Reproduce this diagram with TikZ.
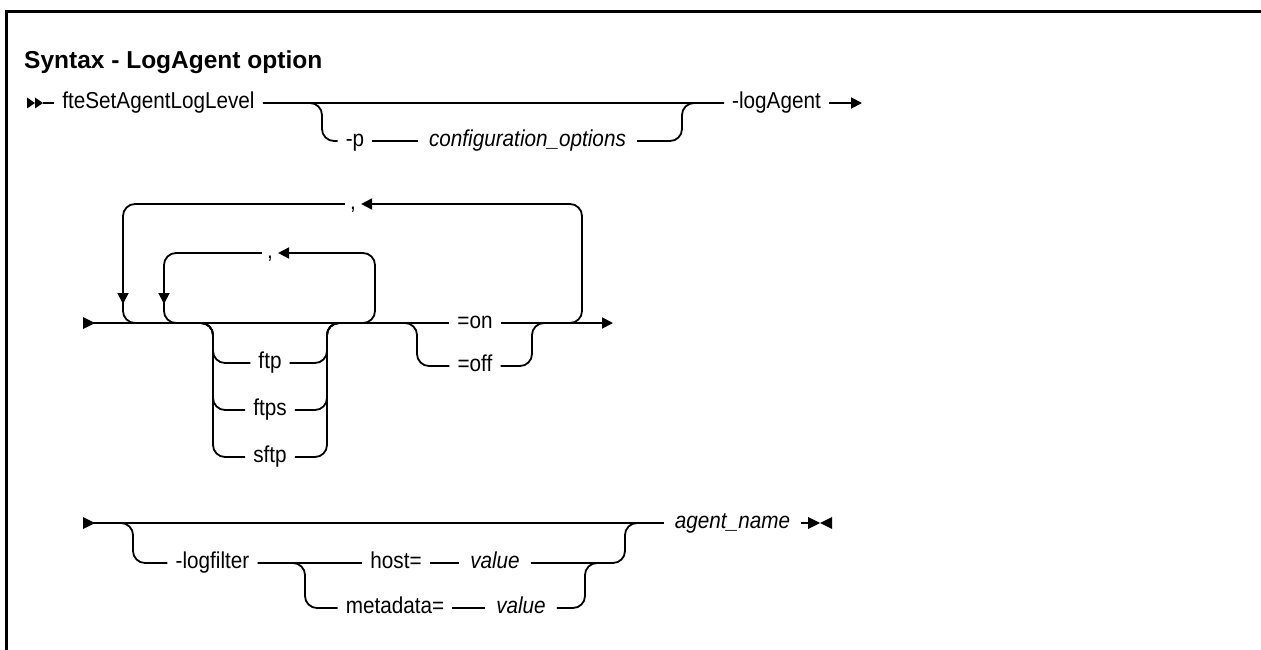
\documentclass[tikz,border=0pt]{standalone}
\usepackage{fontspec}
\setmainfont{Liberation Sans}[FakeStretch=0.9]
\newfontfamily\ttlfont{Liberation Sans}
\usetikzlibrary{arrows.meta}
\begin{document}
\begin{tikzpicture}[x=1pt,y=-1pt,
  rr/.style={line width=1.8pt},
  rc/.style={rr, rounded corners=12pt},
  lbl/.style={inner xsep=8pt, inner ysep=0pt, text height=11.9pt, text depth=0pt, font=\fontsize{23}{27}\selectfont},
  ital/.style={lbl, inner xsep=11pt, font=\fontsize{23}{27}\selectfont\itshape},
  cma/.style={lbl, inner xsep=5pt},
  tip/.style={-{Triangle[length=11pt,width=11pt]}},
  ttl/.style={anchor=base west, inner sep=0pt, font=\fontsize{24.5}{28}\ttlfont\bfseries}]
\useasboundingbox (0,0) rectangle (1261,650);
% frame
\draw[line width=3pt] (6,650) -- (6,12) -- (1261,12);
\node[ttl] (title) at (24,69) {Syntax - LogAgent option};

% ---------- row 1 ----------
\coordinate (s1) at (43,103);
\coordinate (e1) at (862,103);
\fill (27,97.5) -- (35,103) -- (27,108.5) -- cycle;
\fill (35,97.5) -- (43,103) -- (35,108.5) -- cycle;
\node[lbl] (fte) at (158.5,103) {fteSetAgentLogLevel};
\node[lbl] (p) at (355,141) {-p};
\node[ital] (cfg) at (527.5,141) {configuration\_options};
\node[lbl] (lga) at (776.5,103) {-logAgent};
\draw[rr] (s1) -- (fte.west);
\draw[rr] (fte.east) -- (lga.west);
\draw[rc] (fte.east) -- (322,103) -- (322,141) -- (p.west);
\draw[rr] (p.east) -- (cfg.west);
\draw[rc] (cfg.east) -- (682,141) -- (682,103) -- (lga.west);
\draw[rr, tip] (lga.east) -- (e1);

% ---------- row 2 ----------
\coordinate (s2) at (83,323);
\coordinate (e2) at (613,323);
\fill (83,317) -- (95,323) -- (83,329) -- cycle;
\node[lbl] (on) at (475,323) {=on};
\node[lbl] (off) at (475,366) {=off};
\node[lbl] (ftp) at (270,363) {ftp};
\node[lbl] (ftps) at (270,410) {ftps};
\node[lbl] (sftp) at (270,457) {sftp};
\node[cma] (c1) at (353,204) {,};
\node[cma] (c2) at (270,253) {,};
\draw[rr] (s2) -- (on.west);
\draw[rr, tip] (on.east) -- (e2);
% choice block
\draw[rc] (201,323) -- (213,323) -- (213,363) -- (ftp.west);
\draw[rc] (201,323) -- (213,323) -- (213,410) -- (ftps.west);
\draw[rc] (201,323) -- (213,323) -- (213,457) -- (sftp.west);
\draw[rc] (ftp.east) -- (327,363) -- (327,323) -- (339,323);
\draw[rc] (ftps.east) -- (327,410) -- (327,323) -- (339,323);
\draw[rc] (sftp.east) -- (327,457) -- (327,323) -- (339,323);
% on / off
\draw[rc] (405,323) -- (417,323) -- (417,366) -- (off.west);
\draw[rc] (off.east) -- (532,366) -- (532,323) -- (544,323);
% inner loop
\draw[rc, tip] (363,323) -- (375,323) -- (375,253) -- (c2.east);
\draw[rc, tip] (c2.west) -- (164,253) -- (164,304);
\draw[rc] (164,300) -- (164,323) -- (190,323);
% outer loop
\draw[rc, tip] (570,323) -- (582,323) -- (582,204) -- (c1.east);
\draw[rc, tip] (c1.west) -- (123,204) -- (123,304);
\draw[rc] (123,300) -- (123,323) -- (150,323);

% ---------- row 3 ----------
\coordinate (s3) at (83,523);
\coordinate (e3) at (808,523);
\fill (83,517) -- (95,523) -- (83,529) -- cycle;
\node[lbl] (lf) at (212.5,563) {-logfilter};
\node[lbl] (host) at (396,563) {host=};
\node[lbl] (meta) at (395,608) {metadata=};
\node[ital] (v1) at (495,563) {value};
\node[ital] (v2) at (521,608) {value};
\node[ital] (an) at (732.5,523) {agent\_name};
\draw[rr] (s3) -- (an.west);
\draw[rc] (s3) -- (133,523) -- (133,563) -- (lf.west);
\draw[rr] (lf.east) -- (host.west);
\draw[rc] (lf.east) -- (305,563) -- (305,608) -- (meta.west);
\draw[rr] (host.east) -- (v1.west);
\draw[rr] (meta.east) -- (v2.west);
\draw[rc] (v1.east) -- (625,563) -- (625,523) -- (an.west);
\draw[rc] (v2.east) -- (585,608) -- (585,563) -- (597,563);
\draw[rr] (an.east) -- (e3);
\fill (808,517) -- (820,523) -- (808,529) -- cycle;
\fill (832,517) -- (820,523) -- (832,529) -- cycle;
\end{tikzpicture}
\end{document}
